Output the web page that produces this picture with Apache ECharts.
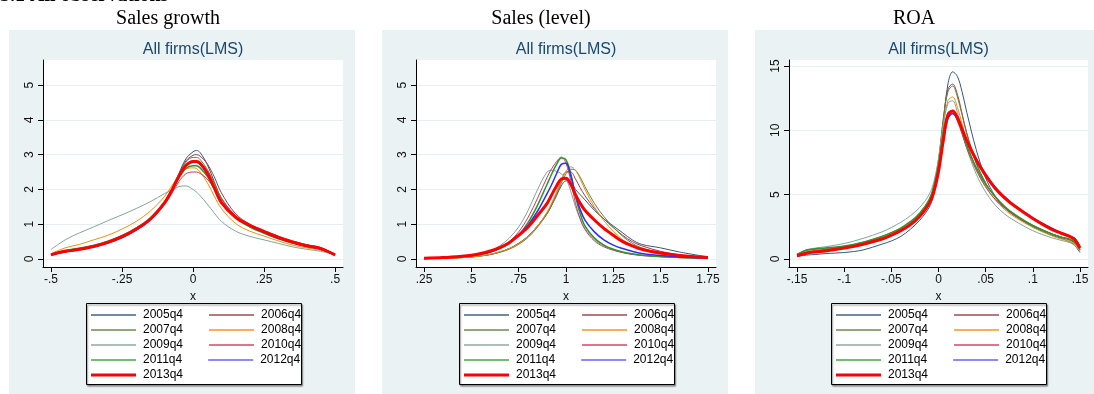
<!DOCTYPE html>
<html>
<head>
<meta charset="utf-8">
<script src="https://cdn.jsdelivr.net/npm/echarts@6/dist/echarts.min.js"></script>
<style>
  html, body { margin: 0; padding: 0; background: #ffffff; }
  #chart { width: 1094px; height: 394px; }
</style>
</head>
<body>
<div id="chart"></div>
<script>
// ---- data: kernel density estimates by quarter ----
const years = ['2005q4', '2006q4', '2007q4', '2008q4', '2009q4', '2010q4', '2011q4', '2012q4', '2013q4'];

// Sales growth
const growthX = [-0.5, -0.45, -0.4, -0.35, -0.3, -0.25, -0.2, -0.15, -0.1, -0.075, -0.05, -0.025, 0, 0.0125, 0.025, 0.05, 0.075, 0.1, 0.15, 0.2, 0.25, 0.3, 0.35, 0.4, 0.45, 0.5];
const growth2005 = [0.12, 0.2, 0.26, 0.34, 0.45, 0.6, 0.82, 1.12, 1.6, 1.97, 2.45, 2.88, 3.08, 3.12, 3.06, 2.72, 2.22, 1.74, 1.24, 0.96, 0.78, 0.61, 0.47, 0.37, 0.28, 0.12];
const growth2006 = [0.13, 0.22, 0.28, 0.36, 0.48, 0.63, 0.84, 1.13, 1.62, 1.98, 2.42, 2.82, 2.98, 3.0, 2.96, 2.74, 2.36, 1.9, 1.3, 1.0, 0.82, 0.66, 0.52, 0.41, 0.32, 0.13];
const growth2007 = [0.14, 0.25, 0.32, 0.4, 0.52, 0.68, 0.9, 1.2, 1.66, 2.0, 2.42, 2.78, 2.92, 2.92, 2.86, 2.58, 2.18, 1.76, 1.22, 0.94, 0.76, 0.6, 0.46, 0.36, 0.27, 0.12];
const growth2008 = [0.15, 0.32, 0.42, 0.55, 0.68, 0.86, 1.08, 1.38, 1.8, 2.1, 2.38, 2.58, 2.62, 2.6, 2.5, 2.2, 1.8, 1.45, 1.02, 0.8, 0.66, 0.52, 0.4, 0.32, 0.25, 0.12];
const growth2009 = [0.27, 0.55, 0.75, 0.92, 1.1, 1.27, 1.45, 1.65, 1.88, 1.98, 2.08, 2.1, 2.0, 1.92, 1.82, 1.58, 1.32, 1.08, 0.8, 0.65, 0.55, 0.45, 0.35, 0.28, 0.22, 0.12];
const growth2010 = [0.12, 0.2, 0.27, 0.35, 0.46, 0.62, 0.83, 1.11, 1.56, 1.88, 2.22, 2.45, 2.5, 2.5, 2.46, 2.3, 2.02, 1.72, 1.25, 0.97, 0.8, 0.64, 0.51, 0.41, 0.33, 0.13];
const growth2011 = [0.13, 0.24, 0.3, 0.38, 0.5, 0.66, 0.87, 1.15, 1.61, 1.95, 2.32, 2.6, 2.68, 2.68, 2.62, 2.38, 2.0, 1.64, 1.18, 0.92, 0.74, 0.58, 0.46, 0.36, 0.28, 0.12];
const growth2012 = [0.12, 0.21, 0.27, 0.35, 0.47, 0.63, 0.84, 1.13, 1.61, 1.96, 2.4, 2.7, 2.78, 2.78, 2.72, 2.45, 2.04, 1.64, 1.2, 0.95, 0.77, 0.6, 0.47, 0.37, 0.29, 0.12];
const growth2013 = [0.12, 0.22, 0.28, 0.36, 0.48, 0.64, 0.86, 1.15, 1.62, 1.97, 2.38, 2.68, 2.8, 2.8, 2.75, 2.48, 2.05, 1.62, 1.2, 0.97, 0.79, 0.62, 0.49, 0.38, 0.3, 0.12];

// Sales (level)
const levelX = [0.25, 0.35, 0.45, 0.5, 0.55, 0.6, 0.65, 0.7, 0.75, 0.8, 0.85, 0.9, 0.925, 0.95, 0.975, 1, 1.025, 1.05, 1.075, 1.1, 1.15, 1.2, 1.25, 1.3, 1.35, 1.4, 1.5, 1.6, 1.75];
const level2005 = [0.01, 0.02, 0.04, 0.06, 0.09, 0.13, 0.2, 0.3, 0.45, 0.66, 0.95, 1.3, 1.55, 1.82, 2.1, 2.25, 2.2, 2.0, 1.85, 1.7, 1.4, 1.15, 0.95, 0.75, 0.55, 0.42, 0.32, 0.2, 0.06];
const level2006 = [0.01, 0.02, 0.04, 0.06, 0.09, 0.13, 0.2, 0.3, 0.45, 0.65, 0.95, 1.32, 1.58, 1.9, 2.25, 2.5, 2.5, 2.3, 2.05, 1.82, 1.45, 1.15, 0.9, 0.68, 0.5, 0.38, 0.22, 0.12, 0.04];
const level2007 = [0.01, 0.02, 0.04, 0.06, 0.09, 0.13, 0.19, 0.28, 0.42, 0.62, 0.92, 1.3, 1.55, 1.85, 2.18, 2.45, 2.58, 2.55, 2.35, 2.08, 1.6, 1.22, 0.92, 0.65, 0.45, 0.32, 0.16, 0.08, 0.03];
const level2008 = [0.01, 0.02, 0.04, 0.06, 0.09, 0.14, 0.21, 0.3, 0.44, 0.65, 0.95, 1.35, 1.62, 1.92, 2.25, 2.52, 2.65, 2.55, 2.3, 2.0, 1.5, 1.1, 0.8, 0.55, 0.38, 0.27, 0.13, 0.07, 0.02];
const level2009 = [0.02, 0.04, 0.07, 0.1, 0.15, 0.24, 0.38, 0.6, 0.92, 1.4, 2.0, 2.5, 2.55, 2.52, 2.45, 2.3, 1.95, 1.5, 1.15, 0.88, 0.55, 0.38, 0.27, 0.19, 0.14, 0.11, 0.07, 0.04, 0.02];
const level2010 = [0.02, 0.04, 0.07, 0.1, 0.15, 0.22, 0.33, 0.5, 0.78, 1.2, 1.75, 2.35, 2.6, 2.8, 2.93, 2.75, 2.25, 1.6, 1.15, 0.85, 0.52, 0.35, 0.25, 0.18, 0.13, 0.1, 0.06, 0.04, 0.02];
const level2011 = [0.02, 0.04, 0.07, 0.1, 0.14, 0.2, 0.3, 0.45, 0.68, 1.05, 1.55, 2.15, 2.45, 2.72, 2.9, 2.85, 2.45, 1.8, 1.3, 0.95, 0.6, 0.4, 0.28, 0.2, 0.15, 0.11, 0.07, 0.04, 0.02];
const level2012 = [0.02, 0.04, 0.07, 0.1, 0.14, 0.2, 0.31, 0.47, 0.7, 0.98, 1.38, 1.88, 2.15, 2.45, 2.72, 2.75, 2.4, 1.85, 1.42, 1.12, 0.78, 0.55, 0.4, 0.3, 0.22, 0.16, 0.1, 0.06, 0.03];
const level2013 = [0.02, 0.04, 0.08, 0.11, 0.16, 0.23, 0.33, 0.47, 0.68, 0.92, 1.25, 1.6, 1.85, 2.1, 2.3, 2.32, 2.15, 1.85, 1.6, 1.4, 1.12, 0.88, 0.68, 0.5, 0.38, 0.28, 0.17, 0.1, 0.04];

// ROA
const roaX = [-0.15, -0.14, -0.13, -0.12, -0.1, -0.08, -0.06, -0.05, -0.04, -0.03, -0.02, -0.01, -0.005, 0, 0.005, 0.01, 0.015, 0.02, 0.025, 0.03, 0.04, 0.05, 0.06, 0.07, 0.08, 0.1, 0.12, 0.13, 0.14, 0.145, 0.15];
const roa2005 = [0.2, 0.3, 0.35, 0.42, 0.5, 0.7, 1.15, 1.4, 1.75, 2.3, 3.0, 4.0, 5.0, 7.0, 10.5, 13.6, 14.55, 14.2, 13.0, 11.4, 8.5, 6.3, 4.9, 4.0, 3.4, 2.5, 1.85, 1.6, 1.3, 1.0, 0.5];
const roa2006 = [0.3, 0.5, 0.6, 0.7, 0.85, 1.1, 1.5, 1.8, 2.15, 2.6, 3.35, 4.5, 5.6, 7.6, 10.8, 13.2, 13.6, 12.8, 11.3, 9.8, 7.5, 5.9, 4.8, 4.0, 3.45, 2.6, 1.95, 1.7, 1.45, 1.2, 0.7];
const roa2007 = [0.35, 0.65, 0.75, 0.8, 0.95, 1.25, 1.65, 1.95, 2.3, 2.8, 3.5, 4.6, 5.7, 7.7, 10.8, 13.0, 13.45, 12.6, 11.2, 9.7, 7.4, 5.9, 4.85, 4.05, 3.5, 2.6, 1.95, 1.7, 1.45, 1.2, 0.7];
const roa2008 = [0.3, 0.55, 0.65, 0.75, 0.9, 1.2, 1.6, 1.9, 2.25, 2.75, 3.45, 4.5, 5.6, 7.5, 10.3, 12.3, 12.6, 11.8, 10.5, 9.1, 7.0, 5.6, 4.6, 3.85, 3.3, 2.45, 1.8, 1.55, 1.35, 1.1, 0.65];
const roa2009 = [0.35, 0.7, 0.85, 0.95, 1.2, 1.6, 2.1, 2.45, 2.85, 3.35, 4.0, 5.0, 6.0, 7.8, 10.3, 12.1, 12.3, 11.4, 10.0, 8.6, 6.6, 5.2, 4.2, 3.5, 3.0, 2.2, 1.65, 1.45, 1.25, 1.0, 0.6];
const roa2010 = [0.3, 0.55, 0.65, 0.75, 0.95, 1.3, 1.75, 2.05, 2.4, 2.85, 3.5, 4.55, 5.5, 7.2, 9.6, 11.1, 11.35, 10.7, 9.7, 8.6, 6.9, 5.6, 4.65, 3.95, 3.4, 2.55, 1.95, 1.7, 1.5, 1.25, 0.75];
const roa2011 = [0.35, 0.7, 0.8, 0.85, 1.0, 1.3, 1.75, 2.05, 2.4, 2.9, 3.55, 4.6, 5.6, 7.3, 9.8, 11.3, 11.55, 10.9, 9.9, 8.8, 7.1, 5.8, 4.85, 4.1, 3.5, 2.6, 1.95, 1.7, 1.5, 1.25, 0.75];
const roa2012 = [0.25, 0.45, 0.55, 0.65, 0.85, 1.15, 1.55, 1.85, 2.2, 2.65, 3.3, 4.3, 5.2, 6.8, 9.1, 10.9, 11.3, 10.9, 10.1, 9.2, 7.8, 6.6, 5.6, 4.85, 4.2, 3.2, 2.4, 2.05, 1.75, 1.55, 0.9];
const roa2013 = [0.25, 0.45, 0.55, 0.62, 0.85, 1.15, 1.55, 1.85, 2.2, 2.65, 3.3, 4.3, 5.2, 6.8, 9.2, 11.2, 11.5, 11.0, 10.1, 9.2, 7.7, 6.5, 5.5, 4.75, 4.15, 3.15, 2.3, 2.0, 1.72, 1.45, 0.85];

// tick labels
const growthTicks = [-0.5, -0.25, 0, 0.25, 0.5];
const levelTicks = [0.25, 0.5, 0.75, 1, 1.25, 1.5, 1.75];
const roaTicks = [-0.15, -0.1, -0.05, 0, 0.05, 0.1, 0.15];
const densityTicks = [0, 1, 2, 3, 4, 5];
const roaDensityTicks = [0, 5, 10, 15];

const panelTitles = ['Sales growth', 'Sales (level)', 'ROA'];
const subTitle = 'All firms(LMS)';

// ---- styling ----
const lineColors = ['#33587f', '#98404a', '#628440', '#ef900f', '#86a49a', '#cf3a5c', '#2a982a', '#2c2cff', '#ff0000'];
const lineWidths = [1, 1, 1, 1, 1, 1, 1.5, 1.5, 3];
const keyHeights = [2, 2, 2, 2, 2, 2, 2, 2, 3];
const keyOpacity = [0.7, 0.7, 0.7, 0.7, 0.7, 0.7, 0.65, 0.55, 1];
const SANS = '"Liberation Sans", Arial, sans-serif';
const SERIF = '"Liberation Serif", "Times New Roman", serif';

const panels = [
  { xs: growthX, ys: [growth2005, growth2006, growth2007, growth2008, growth2009, growth2010, growth2011, growth2012, growth2013],
    xTicks: growthTicks, yTicks: densityTicks, xMin: -0.528, xMax: 0.528, yMin: -0.23, yMax: 5.72,
    grid: { left: 43, top: 60, width: 300, height: 207 }, bg: 9 },
  { xs: levelX, ys: [level2005, level2006, level2007, level2008, level2009, level2010, level2011, level2012, level2013],
    xTicks: levelTicks, yTicks: densityTicks, xMin: 0.2076, xMax: 1.7924, yMin: -0.23, yMax: 5.72,
    grid: { left: 416, top: 60, width: 300, height: 207 }, bg: 382 },
  { xs: roaX, ys: [roa2005, roa2006, roa2007, roa2008, roa2009, roa2010, roa2011, roa2012, roa2013],
    xTicks: roaTicks, yTicks: roaDensityTicks, xMin: -0.1585, xMax: 0.1585, yMin: -0.625, yMax: 15.47,
    grid: { left: 789, top: 60, width: 299, height: 207 }, bg: 755 }
];

// Stata-style numbers: drop the leading zero
function fmt(v) {
  if (v === 0) return '0';
  return String(v).replace(/^(-?)0\./, '$1.');
}

const grids = [], xAxes = [], yAxes = [], series = [], legends = [], graphics = [];

graphics.push({
  type: 'text', z: 5,
  style: { text: '3.1 All observations', x: 0, y: 6, verticalAlign: 'bottom', align: 'left',
           font: 'bold 20px ' + SERIF, fill: '#000' }
});

panels.forEach((p, i) => {
  grids.push(Object.assign({ show: true, backgroundColor: '#ffffff', borderWidth: 0 }, p.grid));

  xAxes.push({
    type: 'value', gridIndex: i, min: p.xMin, max: p.xMax,
    name: 'x', nameLocation: 'middle', nameGap: 18,
    nameTextStyle: { fontFamily: SANS, fontSize: 12, color: '#111' },
    axisLine: { onZero: false, lineStyle: { color: '#000', width: 1 } },
    axisTick: { customValues: p.xTicks, length: 5, lineStyle: { color: '#000' } },
    axisLabel: { customValues: p.xTicks, formatter: fmt, margin: 7,
                 fontFamily: SANS, fontSize: 12, color: '#111' },
    splitLine: { show: false }
  });

  yAxes.push({
    type: 'value', gridIndex: i, min: p.yMin, max: p.yMax,
    axisLine: { show: true, onZero: false, lineStyle: { color: '#000', width: 1 } },
    axisTick: { show: true, customValues: p.yTicks, length: 5, lineStyle: { color: '#000' } },
    axisLabel: { customValues: p.yTicks, rotate: 90, margin: 7, formatter: fmt,
                 fontFamily: SANS, fontSize: 12, color: '#111' },
    splitLine: { show: true, lineStyle: { color: '#e8eff1', width: 1 } }
  });

  p.ys.forEach((vals, k) => {
    series.push({
      name: years[k], type: 'line', xAxisIndex: i, yAxisIndex: i,
      data: p.xs.map((x, j) => [x, vals[j]]),
      symbol: 'none', smooth: 0.35, clip: true, silent: true,
      lineStyle: { color: lineColors[k], width: lineWidths[k] },
      itemStyle: { color: lineColors[k] },
      z: 2 + k
    });
  });

  // panel background and headings
  graphics.push({
    type: 'rect', z: -10, silent: true,
    shape: { x: p.bg, y: 30, width: 346, height: 364 },
    style: { fill: '#eaf2f3' }
  });
  graphics.push({
    type: 'text', z: 5,
    style: { text: panelTitles[i], x: p.bg + 173 - 14, y: 19, align: 'center', verticalAlign: 'middle',
             font: '20px ' + SERIF, fill: '#000' }
  });
  graphics.push({
    type: 'text', z: 5,
    style: { text: subTitle, x: p.grid.left + p.grid.width / 2, y: 50, align: 'center', verticalAlign: 'middle',
             font: '16px ' + SANS, fill: '#1a476f' }
  });

  // legend frame centred under the plot region; one legend row per pair of years
  const boxW = 215, boxH = 81;
  const boxLeft = Math.round(p.grid.left + p.grid.width / 2 - boxW / 2);
  graphics.push({
    type: 'rect', z: 3, silent: true,
    shape: { x: boxLeft + 0.5, y: 303.5, width: boxW, height: boxH },
    style: { fill: '#ffffff', stroke: '#000', lineWidth: 1,
             shadowColor: 'rgba(0,0,0,0.45)', shadowOffsetX: 1, shadowOffsetY: 1.5, shadowBlur: 1.5 }
  });
  for (let r = 0; r < 5; r++) {
    const idx = [r * 2, r * 2 + 1].filter(k => k < years.length);
    legends.push({
      data: idx.map(k => ({ name: years[k], icon: 'rect', itemStyle: { opacity: keyOpacity[k] } })),
      orient: 'horizontal', left: boxLeft + 5, top: 309 + r * 15,
      padding: 0, itemWidth: 45, itemHeight: keyHeights[r * 2], itemGap: 26,
      selectedMode: false, z: 6,
      textStyle: { fontFamily: SANS, fontSize: 12, color: '#000', padding: [0, 0, 0, 2] }
    });
  }
});

const chart = echarts.init(document.getElementById('chart'), null, { renderer: 'canvas' });
chart.setOption({
  animation: false,
  backgroundColor: '#ffffff',
  grid: grids,
  xAxis: xAxes,
  yAxis: yAxes,
  legend: legends,
  graphic: graphics,
  series: series
});
</script>
</body>
</html>
